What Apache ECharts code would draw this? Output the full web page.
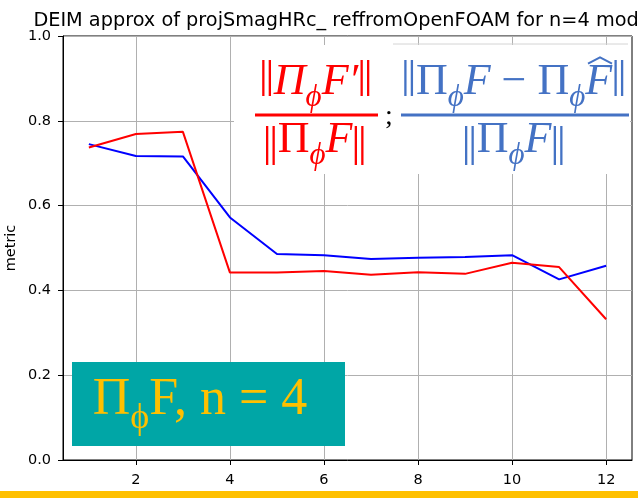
<!DOCTYPE html>
<html>
<head>
<meta charset="utf-8">
<script src="https://cdn.jsdelivr.net/npm/echarts@6/dist/echarts.min.js"></script>
<style>
html, body { margin: 0; padding: 0; background: #fff; }
#main { width: 638px; height: 498px; }
</style>
</head>
<body>
<div id="main"></div>
<script>
// data
var modes = [1, 2, 3, 4, 5, 6, 7, 8, 9, 10, 11, 12];
var blueErr = [0.745, 0.717, 0.716, 0.572, 0.486, 0.483, 0.474, 0.477, 0.479, 0.483, 0.426, 0.458];
var redErr = [0.737, 0.769, 0.774, 0.442, 0.442, 0.446, 0.437, 0.443, 0.439, 0.465, 0.455, 0.332];
var xTicks = [2, 4, 6, 8, 10, 12];
var titleText = 'DEIM approx of projSmagHRc_ reffromOpenFOAM for n=4 modes';

function pairs(xs, ys) {
    return xs.map(function (x, i) { return [x, ys[i]]; });
}

// small helper to lay out a row of math pieces (subscripts, norm bars)
var mctx = document.createElement('canvas').getContext('2d');
function fontStr(p) {
    return (p.italic ? 'italic ' : '') + p.size + 'px "Liberation Serif", "DejaVu Serif", serif';
}
function mathRow(parts, cx, base, color, up, down) {
    var els = [];
    var w = 0;
    parts.forEach(function (p) {
        if (p.norm) {
            p.w = 14;
        } else {
            mctx.font = fontStr(p);
            p.w = mctx.measureText(p.t).width;
        }
        w += p.w;
    });
    var x = cx - w / 2;
    parts.forEach(function (p) {
        if (p.norm) {
            [3.5, 10].forEach(function (o) {
                els.push({
                    type: 'line', z: 30,
                    shape: { x1: x + o, y1: base - up, x2: x + o, y2: base + down },
                    style: { stroke: color, lineWidth: 2.3 }
                });
            });
        } else {
            els.push({
                type: 'text', z: 30,
                x: x, y: base + (p.dy || 0) - 0.34 * p.size,
                style: { text: p.t, font: fontStr(p), fill: color, align: 'left', verticalAlign: 'middle' }
            });
            if (p.hat) {
                var hx = x + p.w * 0.55;
                els.push({
                    type: 'polyline', z: 30,
                    shape: { points: [[hx - 12, base - 0.76 * p.size], [hx, base - 0.9 * p.size], [hx + 12, base - 0.76 * p.size]] },
                    style: { stroke: color, lineWidth: 2, fill: null }
                });
            }
        }
        x += p.w;
    });
    return els;
}

var RED = '#ff0000';
var BLUE = '#4472c4';
var S = 44, SS = 31, SD = 11;

var graphics = [];
// title
graphics.push({
    type: 'text', z: 30, x: 347, y: 21,
    style: { text: titleText, font: '19.3px "DejaVu Sans"', fill: '#000', align: 'center', verticalAlign: 'middle' }
});
// white formula box
graphics.push({ type: 'rect', z: 20, shape: { x: 234, y: 45, width: 396, height: 129 }, style: { fill: '#fff' } });
graphics.push({ type: 'line', z: 21, shape: { x1: 393, y1: 44, x2: 628, y2: 44 }, style: { stroke: '#d4d4d4', lineWidth: 1 } });
// red fraction
graphics = graphics.concat(mathRow([
    { norm: true },
    { t: 'Π', italic: true, size: S },
    { t: 'ϕ', italic: true, size: SS, dy: SD },
    { t: 'F′', italic: true, size: S },
    { norm: true }
], 316, 97, RED, 37, -1));
graphics.push({ type: 'line', z: 30, shape: { x1: 255, y1: 115, x2: 378, y2: 115 }, style: { stroke: RED, lineWidth: 3 } });
graphics = graphics.concat(mathRow([
    { norm: true },
    { t: 'Π', size: S },
    { t: 'ϕ', italic: true, size: SS, dy: SD },
    { t: 'F', italic: true, size: S },
    { norm: true }
], 315, 155, RED, 29, 10));
// semicolon
graphics.push({
    type: 'text', z: 30, x: 389, y: 126 - 0.34 * 28,
    style: { text: ';', font: '28px "Liberation Serif"', fill: '#000', align: 'center', verticalAlign: 'middle' }
});
// blue fraction
graphics = graphics.concat(mathRow([
    { norm: true },
    { t: 'Π', size: S },
    { t: 'ϕ', italic: true, size: SS, dy: SD },
    { t: 'F', italic: true, size: S },
    { t: ' − ', size: S },
    { t: 'Π', size: S },
    { t: 'ϕ', italic: true, size: SS, dy: SD },
    { t: 'F', italic: true, size: S, hat: true },
    { norm: true }
], 514, 97, BLUE, 37, -1));
graphics.push({ type: 'line', z: 30, shape: { x1: 401, y1: 115, x2: 629, y2: 115 }, style: { stroke: BLUE, lineWidth: 3 } });
graphics = graphics.concat(mathRow([
    { norm: true },
    { t: 'Π', size: S },
    { t: 'ϕ', italic: true, size: SS, dy: SD },
    { t: 'F', italic: true, size: S },
    { norm: true }
], 514, 155, BLUE, 29, 10));
// teal label box
graphics.push({ type: 'rect', z: 20, shape: { x: 72, y: 362, width: 273, height: 84 }, style: { fill: '#00a6a6' } });
graphics = graphics.concat(mathRow([
    { t: 'Π', size: 52 },
    { t: 'ϕ', size: 36, dy: 13 },
    { t: 'F, n = 4', size: 52 }
], 200, 418, '#ffc000', 0, 0));
// yellow strip at the bottom
graphics.push({ type: 'rect', z: 20, shape: { x: 0, y: 491, width: 638, height: 7 }, style: { fill: '#ffc000' } });

var chart = echarts.init(document.getElementById('main'), null, { renderer: 'canvas' });
var option = {
    animation: false,
    backgroundColor: '#fff',
    grid: {
        left: 63, right: 6, top: 36, bottom: 38,
        outerBoundsMode: 'none',
        show: true, borderColor: '#000', borderWidth: 1, backgroundColor: '#fff'
    },
    xAxis: {
        type: 'value',
        min: 0.45, max: 12.55,
        axisLine: { show: true, onZero: false, lineStyle: { color: '#000', width: 1 } },
        axisTick: { show: true, customValues: xTicks, length: 5, lineStyle: { color: '#000' } },
        axisLabel: { customValues: xTicks, color: '#000', fontFamily: 'DejaVu Sans', fontSize: 14.5, margin: 13 },
        splitLine: { show: true, lineStyle: { color: '#b0b0b0', width: 1 } }
    },
    yAxis: {
        type: 'value',
        min: 0, max: 1, interval: 0.2,
        name: 'metric',
        nameLocation: 'middle',
        nameGap: 44,
        nameMoveOverlap: false,
        nameTextStyle: { color: '#000', fontFamily: 'DejaVu Sans', fontSize: 14.5 },
        axisLine: { show: true, lineStyle: { color: '#000', width: 1 } },
        axisTick: { show: true, length: 5, lineStyle: { color: '#000' } },
        axisLabel: {
            color: '#000', fontFamily: 'DejaVu Sans', fontSize: 14.5, margin: 12,
            formatter: function (v) { return v.toFixed(1); }
        },
        splitLine: { show: true, lineStyle: { color: '#b0b0b0', width: 1 } }
    },
    series: [
        {
            type: 'line', data: pairs(modes, blueErr), showSymbol: false,
            lineStyle: { color: '#0000ff', width: 2 }, itemStyle: { color: '#0000ff' }
        },
        {
            type: 'line', data: pairs(modes, redErr), showSymbol: false,
            lineStyle: { color: '#ff0000', width: 2 }, itemStyle: { color: '#ff0000' }
        }
    ],
    graphic: { elements: graphics }
};
chart.setOption(option);
</script>
</body>
</html>
